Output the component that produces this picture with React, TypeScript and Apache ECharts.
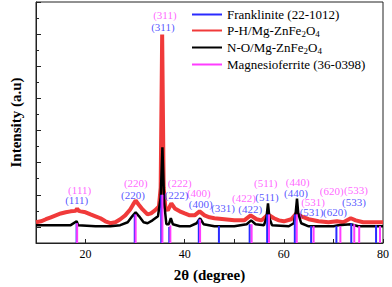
import React, { useEffect, useRef } from "react";
import * as echarts from "echarts";

// ---- Data ----
const redPH: [number, number][] = [
  [10, 1.29], [11, 1.35], [12, 1.48], [13, 1.6], [14, 1.72], [15, 1.84], [16, 1.91], [17, 1.97],
  [18, 2.0], [18.3, 2.15], [18.6, 2.0], [19, 1.97], [20, 1.91], [21, 1.78], [22, 1.66], [23, 1.54],
  [24, 1.35], [25, 1.23], [26, 1.29], [27, 1.48], [28, 1.72], [29, 2.09], [29.6, 2.4], [30.1, 2.64],
  [30.7, 2.4], [31.5, 2.09], [32.5, 1.78], [33.2, 1.84], [34, 2.03], [34.8, 2.27], [35.15, 3.44],
  [35.45, 12.97], [35.75, 3.44], [36.1, 2.2], [36.6, 2.03], [37.3, 2.46], [38, 2.15], [39, 1.97],
  [40, 1.84], [41, 1.72], [42, 1.72], [43, 1.97], [44, 1.72], [45, 1.6], [46, 1.54], [48, 1.48],
  [50, 1.41], [52, 1.41], [53.3, 1.72], [54.5, 1.48], [55.5, 1.41], [56.8, 1.78], [58, 1.54],
  [59, 1.41], [60, 1.35], [61.5, 1.48], [62.5, 1.84], [63.5, 1.66], [65, 1.48], [67, 1.35],
  [69, 1.29], [70.7, 1.35], [72, 1.29], [73.5, 1.54], [74.5, 1.41], [76, 1.29], [78, 1.29], [80, 1.29],
];

const blackNO: [number, number][] = [
  [10, 1.11], [14, 1.11], [17, 1.11], [18.2, 1.35], [18.5, 1.11], [22, 1.04], [25, 1.04], [27, 1.11],
  [28.5, 1.29], [29.4, 1.66], [30.1, 1.91], [30.8, 1.66], [31.7, 1.29], [32.5, 1.23], [33.5, 1.41],
  [34.6, 1.66], [35.15, 2.83], [35.5, 5.96], [35.85, 2.52], [36.3, 1.17], [36.8, 1.17], [37.2, 1.54],
  [37.6, 1.17], [39, 1.04], [41, 1.04], [42.4, 1.23], [43.1, 1.54], [43.8, 1.17], [46, 1.04],
  [50, 1.04], [52.5, 1.17], [53.4, 1.41], [54.3, 1.17], [56, 1.11], [56.5, 1.6], [56.8, 2.46],
  [57.1, 1.54], [57.6, 1.11], [61, 1.04], [62.0, 1.23], [62.4, 1.91], [62.65, 2.77], [62.9, 1.84],
  [63.5, 1.23], [65, 1.04], [70, 1.04], [71, 1.11], [73.5, 1.17], [75, 1.04], [80, 1.04],
];

const franklinite: [number, number][] = [
  [18.19, 1.23], [29.92, 1.78], [35.26, 3.0], [36.88, 1.0], [42.84, 1.47], [46.9, 1.05],
  [53.1, 1.17], [56.63, 1.78], [62.21, 1.78], [65.5, 1.05], [70.6, 1.05], [73.6, 1.23], [78.6, 1.1],
];

const magnesioferrite: [number, number][] = [
  [18.3, 1.23], [30.1, 1.78], [35.5, 3.0], [37.1, 1.1], [43.1, 1.47], [53.5, 1.17], [57.0, 1.78],
  [62.6, 1.78], [66.0, 1.05], [71.4, 1.05], [74.2, 1.17], [75.2, 1.05], [79.4, 1.05],
];

const magentaLabels: [string, number, number][] = [
  ["(111)", 18.8, 3.32], ["(220)", 30.14, 3.72], ["(311)", 36.0, 14.2], ["(222)", 39.0, 3.75],
  ["(400)", 42.85, 3.13], ["(422)", 51.95, 2.83], ["(511)", 56.34, 3.75], ["(440)", 62.8, 3.81],
  ["(531)", 65.9, 2.55], ["(620)", 69.64, 3.26], ["(533)", 74.53, 3.28],
];

const blueLabels: [string, number, number][] = [
  ["(111)", 18.2, 2.65], ["(220)", 29.55, 2.98], ["(311)", 35.6, 13.46], ["(222)", 38.35, 3.01],
  ["(400)", 43.24, 2.4], ["(331)", 47.74, 2.15], ["(422)", 53.2, 2.09], ["(511)", 56.6, 2.89],
  ["(440)", 62.45, 3.1], ["(531)", 65.6, 1.9], ["(620)", 70.3, 1.9], ["(533)", 74.14, 2.55],
];

const xTicks = [20, 40, 60, 80];

const BLUE = "#2a2aff";
const MAGENTA = "#ff3cff";
const RED = "#f03a3a";
const BLACK = "#000000";
const FONT = "Liberation Serif";

function stickSeries(name: string, data: [number, number][], color: string) {
  return {
    name,
    type: "custom",
    z: 5,
    itemStyle: { color },
    encode: { x: 0, y: 1 },
    data,
    renderItem: (_params: any, api: any) => {
      const x = api.value(0);
      const v = api.value(1);
      const p0 = api.coord([x, 0]);
      const p1 = api.coord([x, v]);
      return {
        type: "line",
        shape: { x1: p0[0], y1: p0[1], x2: p1[0], y2: p1[1] },
        style: { stroke: color, lineWidth: 2 },
      };
    },
  };
}

function labelSeries(id: string, items: [string, number, number][], color: string) {
  return {
    name: id,
    type: "scatter",
    z: 6,
    silent: true,
    symbolSize: 1,
    itemStyle: { color: "transparent" },
    data: items.map(([n, x, y]) => ({ name: n, value: [x, y] })),
    label: {
      show: true,
      position: "inside",
      formatter: (p: any) => p.name,
      color,
      fontSize: 11,
      lineHeight: 11,
      fontFamily: FONT,
    },
  };
}

export default function App() {
  const ref = useRef<HTMLDivElement>(null);
  useEffect(() => {
    if (!ref.current) return;
    const chart = echarts.init(ref.current, undefined, { renderer: "svg" });
    const sub = { fontSize: 9, fontFamily: FONT, color: "#000", verticalAlign: "bottom", padding: [6, 0, 0, 0] };
    chart.setOption({
      animation: false,
      backgroundColor: "#ffffff",
      textStyle: { fontFamily: FONT },
      grid: { left: 27, right: 7, top: 2, bottom: 41, show: true, borderColor: "#222", borderWidth: 1 },
      legend: {
        orient: "vertical",
        left: 187,
        top: 3,
        itemGap: 3,
        itemWidth: 30,
        itemHeight: 2,
        icon: "rect",
        textStyle: {
          fontSize: 13,
          fontFamily: FONT,
          color: "#000",
          padding: [0, 0, 0, 0],
          rich: { sub },
        },
        formatter: (name: string) => {
          if (name.indexOf("ZnFe") >= 0) {
            const pre = name.replace("ZnFe2O4", "");
            return pre + "ZnFe{sub|2}O{sub|4}";
          }
          return name;
        },
        data: [
          { name: "Franklinite (22-1012)" },
          { name: "P-H/Mg-ZnFe2O4" },
          { name: "N-O/Mg-ZnFe2O4" },
          { name: "Magnesioferrite (36-0398)" },
        ],
      },
      xAxis: {
        type: "value",
        min: 10,
        max: 80,
        interval: 10,
        name: "2θ (degree)",
        nameLocation: "middle",
        nameGap: 24,
        nameTextStyle: { fontSize: 15, fontWeight: "bold", fontFamily: FONT, color: "#000" },
        axisLine: { show: true, lineStyle: { color: "#222", width: 1 } },
        axisTick: { show: true, inside: true, length: 4, lineStyle: { color: "#222" } },
        splitLine: { show: false },
        axisLabel: {
          margin: 5,
          fontSize: 12,
          color: "#000",
          fontFamily: FONT,
          formatter: (v: number) => (xTicks.indexOf(v) >= 0 ? String(v) : ""),
        },
      },
      yAxis: [
        {
          type: "value",
          min: 0,
          max: 15,
          interval: 1,
          name: "Intensity (a.u)",
          nameLocation: "middle",
          nameGap: 13,
          nameTextStyle: { fontSize: 15, fontWeight: "bold", fontFamily: FONT, color: "#000" },
          axisLine: { show: true, lineStyle: { color: "#222", width: 1 } },
          axisTick: { show: true, inside: true, length: 3, lineStyle: { color: "#222" } },
          axisLabel: { show: false },
          splitLine: { show: false },
        },
        {
          type: "value",
          position: "left",
          inverse: true,
          min: 0,
          max: 15,
          interval: 2,
          axisLine: { show: false },
          axisTick: { show: true, inside: true, length: 5, lineStyle: { color: "#222" } },
          axisLabel: { show: false },
          splitLine: { show: false },
        },
      ],
      series: [
        {
          name: "P-H/Mg-ZnFe2O4",
          type: "line",
          data: redPH,
          symbol: "none",
          z: 2,
          itemStyle: { color: RED },
          lineStyle: { color: RED, width: 4 },
        },
        {
          name: "N-O/Mg-ZnFe2O4",
          type: "line",
          data: blackNO,
          symbol: "none",
          z: 3,
          itemStyle: { color: BLACK },
          lineStyle: { color: BLACK, width: 2.5 },
        },
        stickSeries("Franklinite (22-1012)", franklinite, BLUE),
        stickSeries("Magnesioferrite (36-0398)", magnesioferrite, MAGENTA),
        labelSeries("labels-magenta", magentaLabels, MAGENTA),
        labelSeries("labels-blue", blueLabels, BLUE),
      ],
    });
    return () => chart.dispose();
  }, []);
  return (
    <div
      ref={ref}
      style={{ position: "fixed", left: 0, top: 0, width: 392, height: 287, background: "#fff" }}
    />
  );
}
